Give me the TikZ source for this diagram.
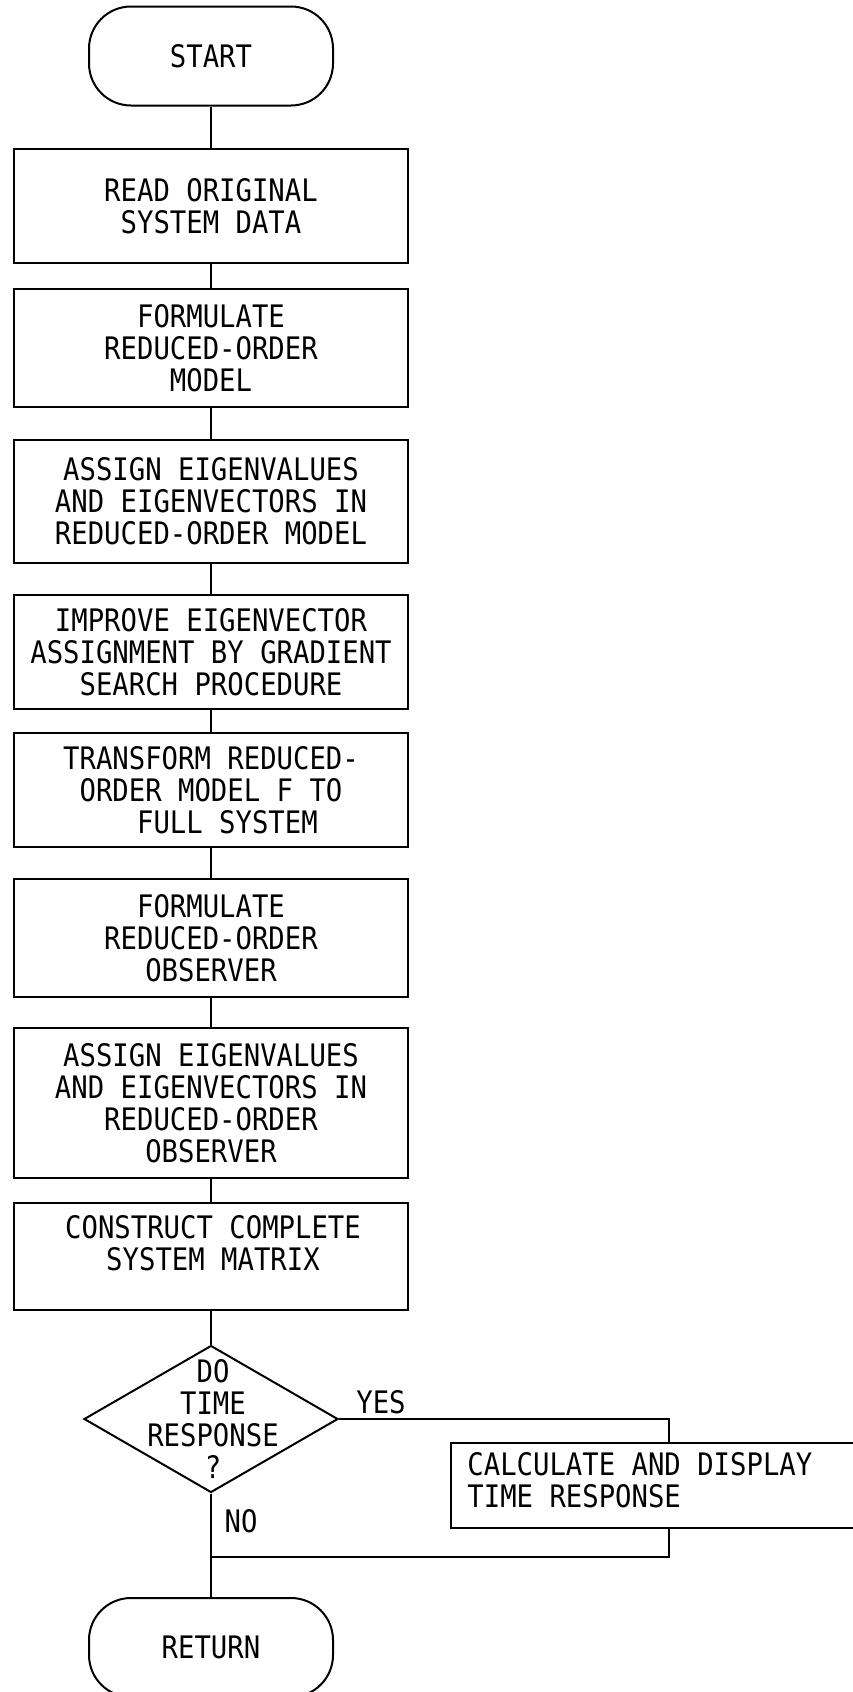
\documentclass[tikz,border=0pt]{standalone}
\usepackage{fontspec}
\setmainfont[FakeStretch=0.88]{DejaVu Sans Mono}
\usetikzlibrary{shapes.geometric}
\tikzset{
  every node/.style={font=\fontsize{15.5pt}{16pt}\selectfont},
  box/.style={draw, line width=1pt, rectangle, minimum width=197pt, align=center, inner sep=0pt},
  term/.style={draw, line width=1pt, rectangle, rounded corners=21pt, minimum width=122pt, minimum height=49.5pt, inner sep=0pt},
  conn/.style={line width=1pt},
  lbl/.style={inner sep=0pt}
}
\begin{document}
\begin{tikzpicture}[x=0.5pt,y=-0.5pt]
\useasboundingbox (0,0) rectangle (852,1692);
\node[term] (start) at (211,56) {START};
\node[box, minimum height=57pt] (read) at (211,206) {READ ORIGINAL\\SYSTEM DATA};
\node[box, minimum height=59pt] (form) at (211,348) {FORMULATE\\REDUCED-ORDER\\MODEL};
\node[box, minimum height=61.5pt] (assign) at (211,501) {ASSIGN EIGENVALUES\\AND EIGENVECTORS IN\\REDUCED-ORDER MODEL};
\node[box, minimum height=57pt] (improve) at (211,652) {IMPROVE EIGENVECTOR\\ASSIGNMENT BY GRADIENT\\SEARCH PROCEDURE};
\node[box, minimum height=57pt] (trans) at (211,790) {TRANSFORM REDUCED-\\ORDER MODEL F TO\\\ \ FULL SYSTEM};
\node[box, minimum height=59pt] (formobs) at (211,938) {FORMULATE\\REDUCED-ORDER\\OBSERVER};
\node[box, minimum height=75pt] (assignobs) at (211,1103) {ASSIGN EIGENVALUES\\AND EIGENVECTORS IN\\REDUCED-ORDER\\OBSERVER};
\node[box, minimum height=53.5pt] (construct) at (211,1256.5) {};
\node[lbl, align=center] (constructtext) at (213,1243) {CONSTRUCT COMPLETE\\SYSTEM MATRIX};
\node[draw, line width=1pt, diamond, minimum width=127pt, minimum height=73.5pt, inner sep=0pt] (dec) at (211,1419) {};
\node[lbl, align=center] (dectext) at (213,1419) {DO\\TIME\\RESPONSE\\?};
\node[draw, line width=1pt, rectangle, minimum width=218pt, minimum height=42.5pt, inner sep=0pt] (calc) at (669,1485.5) {};
\node[lbl, align=left, anchor=west] (calctext) at (467,1480) {CALCULATE AND DISPLAY\\TIME RESPONSE};
\node[term] (ret) at (211,1647.5) {RETURN};
\node[lbl] (yes) at (381,1402) {YES};
\node[lbl] (no) at (241,1521) {NO};
\coordinate (join) at (211,1557);
\draw[conn] (start) -- (read);
\draw[conn] (read) -- (form);
\draw[conn] (form) -- (assign);
\draw[conn] (assign) -- (improve);
\draw[conn] (improve) -- (trans);
\draw[conn] (trans) -- (formobs);
\draw[conn] (formobs) -- (assignobs);
\draw[conn] (assignobs) -- (construct);
\draw[conn] (construct.south) -- (dec.north);
\draw[conn] (dec.east) -| (calc.north);
\draw[conn] (dec.south) -- (ret.north);
\draw[conn] (calc.south) |- (join);
\end{tikzpicture}
\end{document}
